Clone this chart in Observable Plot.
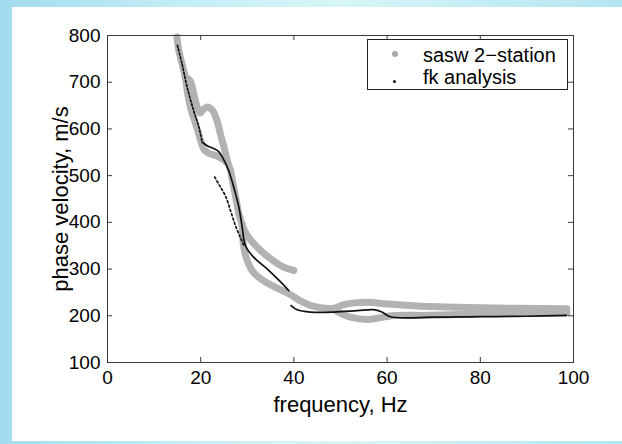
<!DOCTYPE html>
<html><head><meta charset="utf-8">
<script src="https://cdn.jsdelivr.net/npm/d3@7"></script>
<script src="https://cdn.jsdelivr.net/npm/@observablehq/plot@0.6"></script>
<style>
html,body{margin:0;padding:0;}
#wrap{position:relative;width:622px;height:444px;overflow:hidden;background:linear-gradient(90deg,#a3dcef 0%,#c4eef6 30%,#d8f6f7 55%,#c2ecf4 80%,#b4e6f2 100%);font-family:"Liberation Sans",Arial,sans-serif;}
#paper{position:absolute;left:12px;top:7px;width:610px;height:434px;background:#fff;}
#chart{position:absolute;left:0;top:0;}
#legend{position:absolute;left:367px;top:39px;width:199px;height:49px;border:1px solid #222;background:#fff;color:#000;}
#legend .t{position:absolute;left:55px;font-size:20px;line-height:20px;white-space:nowrap;}
#legend .m{position:absolute;}
</style>
</head><body>
<div id="wrap"><div id="paper"></div><div id="chart"></div><div id="legend"></div></div>
<script>
// x ticks / y ticks
const xTicks = [0, 20, 40, 60, 80, 100];
const yTicks = [100, 200, 300, 400, 500, 600, 700, 800];
const xLabel = "frequency, Hz";
const yLabel = "phase velocity, m/s";
const seriesNames = ["sasw 2\u2212station", "fk analysis"];

// sasw 2-station branches [frequency Hz, phase velocity m/s]
const saswA = [[14.9,797],[15.3,768],[16.0,739],[16.7,711],[17.1,682],[17.8,646],[18.9,611],[20.0,575],[20.7,556],[21.7,548],[23.2,543],[24.6,536],[25.6,528]];
const saswB = [[16.7,711],[17.8,702],[18.5,675],[19.2,648],[19.9,634],[20.6,642],[21.4,647],[22.5,640],[23.5,618],[24.2,590],[25.0,561],[25.7,532],[26.4,511],[26.8,490],[27.5,454],[28.2,418],[28.9,395]];
const saswC = [[28.9,395],[30.0,372],[32.1,347],[35.0,322],[37.8,304],[40.0,297]];
const saswD = [[28.9,395],[29.2,350],[30.0,318],[31.4,292],[34.3,270],[37.1,256],[39.3,245],[41.4,232],[44.3,220],[48.6,216],[50.7,224],[55.7,229],[60.0,225],[66.5,221],[77.2,218],[87.9,216],[98.6,215]];
const saswE = [[48.6,214],[50.5,203],[52.1,197],[55.7,192],[58.6,196],[61.0,200],[69.3,201],[80.0,204],[90.0,205],[98.6,206]];

// fk analysis branches
const fkA = [[15.0,779],[16.0,739],[17.1,689],[18.5,639],[19.6,604],[20.3,572]];
const fkB = [[20.3,572],[21.4,564],[22.8,558],[23.9,551],[25.0,533],[26.0,511],[27.1,475],[28.2,432],[28.9,390],[29.6,350],[31.4,325],[34.3,300],[37.1,273],[38.9,254]];
const fkC = [[39.4,222],[40.7,213],[43.6,208],[48.6,208],[53.6,211],[57.1,213],[58.9,208],[60.7,198],[70.0,197],[80.0,198],[90.0,199],[98.5,201]];
const fkD = [[23.0,497],[24.2,476],[25.3,457],[26.4,425],[27.5,392],[28.5,368],[29.3,350]];

const gx = d => d[0], gy = d => d[1];
const grayLine = arr => Plot.line(arr, {x: gx, y: gy, stroke: "url(#chk)", strokeWidth: 7, curve: "catmull-rom", strokeLinecap: "round"});
const blackLine = (arr, dash) => Plot.line(arr, {x: gx, y: gy, stroke: "#111", strokeWidth: 1.7, curve: "catmull-rom", strokeDasharray: dash});

const chart = Plot.plot({
  width: 622, height: 444,
  marginLeft: 107, marginRight: 49, marginTop: 35, marginBottom: 82,
  style: {background: "transparent", fontFamily: "'Liberation Sans', Arial, sans-serif", fontSize: "19px", color: "#000"},
  x: {domain: [0, 100]},
  y: {domain: [100, 800]},
  marks: [
    grayLine(saswA), grayLine(saswB), grayLine(saswC), grayLine(saswD), grayLine(saswE),
    blackLine(fkA, "2,2"), blackLine(fkB), blackLine(fkC), blackLine(fkD, "2,2.5"),
    Plot.frame({stroke: "#3a3a3a", strokeWidth: 1}),
    Plot.ruleX(xTicks, {x: d => d, y1: 100, y2: 100, insetBottom: 5, stroke: "#3a3a3a"}),
    Plot.ruleX(xTicks, {x: d => d, y1: 800, y2: 800, insetTop: 5, stroke: "#3a3a3a"}),
    Plot.ruleY(yTicks, {y: d => d, x1: 0, x2: 0, insetLeft: 5, stroke: "#3a3a3a"}),
    Plot.ruleY(yTicks, {y: d => d, x1: 100, x2: 100, insetRight: 5, stroke: "#3a3a3a"}),
    Plot.axisX({ticks: xTicks, tickSize: 0, tickPadding: 8, label: null, fontSize: 19}),
    Plot.axisY({ticks: yTicks, tickSize: 0, tickPadding: 7, label: null, fontSize: 19}),
    Plot.text([xLabel], {frameAnchor: "bottom", dy: 42, text: d => d, fontSize: 22, fill: "#000", textAnchor: "middle", lineAnchor: "middle"}),
    Plot.text([yLabel], {frameAnchor: "left", dx: -47, rotate: -90, text: d => d, fontSize: 22, fill: "#000", textAnchor: "middle", lineAnchor: "middle"})
  ]
});
// checker texture for the sasw markers band
const ns = "http://www.w3.org/2000/svg";
const defs = document.createElementNS(ns, "defs");
defs.innerHTML = '<pattern id="chk" patternUnits="userSpaceOnUse" width="2" height="2"><rect width="2" height="2" fill="#d8d8d8"/><rect width="1" height="1" fill="#8c8c8c"/><rect x="1" y="1" width="1" height="1" fill="#8c8c8c"/></pattern>';
chart.insertBefore(defs, chart.firstChild);
document.getElementById("chart").appendChild(chart);

// legend
const lg = document.getElementById("legend");
lg.innerHTML =
  '<div class="m" style="left:24px;top:11px;width:6px;height:6px;border-radius:50%;background:#a8a8a8;"></div>' +
  '<div class="t" style="top:5px;">' + seriesNames[0] + '</div>' +
  '<div class="m" style="left:25px;top:40px;width:3px;height:3px;border-radius:50%;background:#111;"></div>' +
  '<div class="t" style="top:27px;">' + seriesNames[1] + '</div>';
</script>
</body></html>
